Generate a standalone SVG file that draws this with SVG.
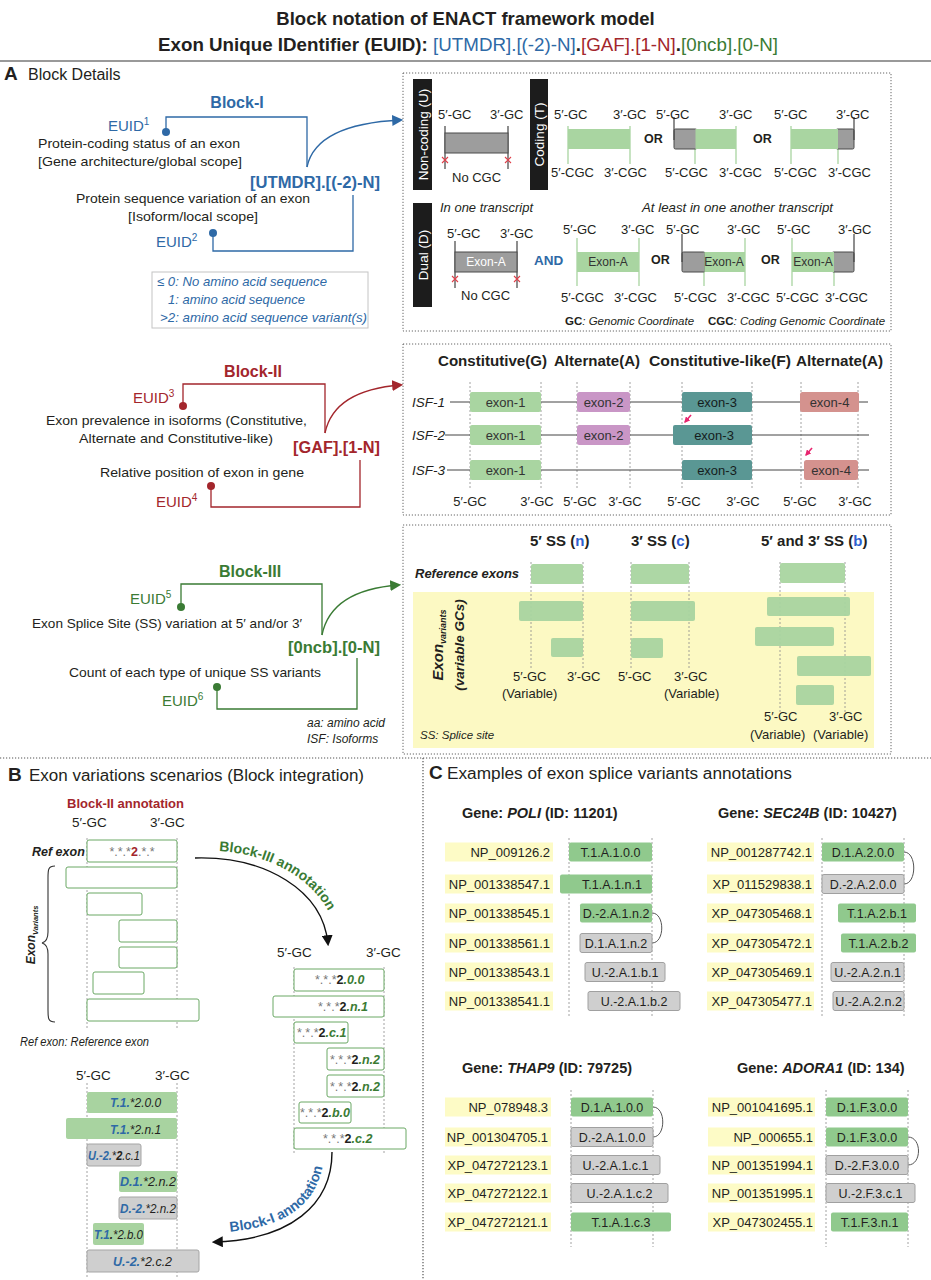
<svg xmlns="http://www.w3.org/2000/svg" width="931" height="1280" viewBox="0 0 931 1280" font-size="13" fill="#231f20">
<defs>
<style>
text{font-family:"Liberation Sans",Arial,sans-serif}
.b{font-weight:bold}
.i{font-style:italic}
.bl{fill:#2e69a6}
.rd{fill:#a3262c}
.gn{fill:#3a7b34}
.gy{fill:#777}
.w{fill:#fff}
.dk{fill:#151d1d}
.m{text-anchor:middle}
.e{text-anchor:end}
.box{fill:none;stroke:#666;stroke-width:1;stroke-dasharray:1.2 1.8}
.vd{stroke:#8a8a8a;stroke-width:0.8;stroke-dasharray:2 2;fill:none}
.gline{stroke:#a9d5a1;stroke-width:1.3;fill:none}
.kline{stroke:#444;stroke-width:1.2;fill:none}
.gfill{fill:#a9d5a1}
.gray{fill:#9d9d9d;stroke:#4a4a4a;stroke-width:1}
.ob{fill:#fff;stroke:#6aa864;stroke-width:1}
.pg{fill:#a8d3a0}
.pgr{fill:#cfcfcf;stroke:#a5a5a5;stroke-width:1}
.cg{fill:#90c98d}
.cgr{fill:#cfcfcf;stroke:#a0a0a0;stroke-width:1}
.yl{fill:#fdfbc6}
.isf{stroke:#444;stroke-width:1;fill:none}
.arc{stroke:#555;stroke-width:1;fill:none}
</style>
<path id="xm" d="M-3,-3L3,3M-3,3L3,-3" stroke="#e0404a" stroke-width="1.1"/>
<marker id="ab" viewBox="0 0 10 10" refX="8" refY="5" markerWidth="11" markerHeight="11" markerUnits="userSpaceOnUse" orient="auto"><path d="M0,0L10,5L0,10z" fill="#2e69a6"/></marker>
<marker id="ar" viewBox="0 0 10 10" refX="8" refY="5" markerWidth="11" markerHeight="11" markerUnits="userSpaceOnUse" orient="auto"><path d="M0,0L10,5L0,10z" fill="#a3262c"/></marker>
<marker id="ag" viewBox="0 0 10 10" refX="8" refY="5" markerWidth="11" markerHeight="11" markerUnits="userSpaceOnUse" orient="auto"><path d="M0,0L10,5L0,10z" fill="#3a7b34"/></marker>
<marker id="ak" viewBox="0 0 10 10" refX="8" refY="5" markerWidth="11" markerHeight="11" markerUnits="userSpaceOnUse" orient="auto"><path d="M0,0L10,5L0,10z" fill="#111"/></marker>
<marker id="ap" viewBox="0 0 10 10" refX="8" refY="5" markerWidth="6" markerHeight="6" markerUnits="userSpaceOnUse" orient="auto"><path d="M0,0L10,5L0,10z" fill="#e8256f"/></marker>
<path id="tp3" d="M205,851 C270,849 331,885 337,940" fill="none"/>
<path id="tp1" d="M226,1232 C292,1227 320,1200 324,1156" fill="none"/>
</defs>
<rect width="931" height="1280" fill="#fff"/>

<g id="title">
<text class="b m" x="465.5" y="25" font-size="18.5">Block notation of ENACT framework model</text>
<text x="158" y="51" font-size="17.5" textLength="620" lengthAdjust="spacingAndGlyphs"><tspan class="b">Exon Unique IDentifier (EUID): </tspan><tspan class="bl">[UTMDR].[(-2)-N]</tspan><tspan class="b">.</tspan><tspan class="rd">[GAF].[1-N]</tspan><tspan class="b">.</tspan><tspan class="gn">[0ncb].[0-N]</tspan></text>
<line x1="0" y1="61" x2="931" y2="61" stroke="#999" stroke-width="2"/>
<text class="b" x="4" y="80" font-size="19">A</text>
<text x="28" y="80" font-size="16">Block Details</text>
</g>

<g id="connectors">
<path d="M166,132V117H307V167" stroke="#2e69a6" stroke-width="1.3" fill="none"/>
<circle cx="166" cy="132" r="4" fill="#2e69a6"/>
<path d="M213,233V251H353V195" stroke="#2e69a6" stroke-width="1.3" fill="none"/>
<circle cx="213" cy="233" r="4" fill="#2e69a6"/>
<path d="M307,167 Q316,124 401,120" stroke="#2e69a6" stroke-width="1.3" fill="none" marker-end="url(#ab)"/>
<path d="M183,406V384H325V433" stroke="#a3262c" stroke-width="1.3" fill="none"/>
<circle cx="183" cy="406" r="4" fill="#a3262c"/>
<path d="M211,486V507H360V460" stroke="#a3262c" stroke-width="1.3" fill="none"/>
<circle cx="211" cy="486" r="4" fill="#a3262c"/>
<path d="M325,433 Q334,390 401,385" stroke="#a3262c" stroke-width="1.3" fill="none" marker-end="url(#ar)"/>
<path d="M181,607V584H322V635" stroke="#3a7b34" stroke-width="1.3" fill="none"/>
<circle cx="181" cy="607" r="4" fill="#3a7b34"/>
<path d="M217,687V709H357V658" stroke="#3a7b34" stroke-width="1.3" fill="none"/>
<circle cx="217" cy="687" r="4" fill="#3a7b34"/>
<path d="M322,635 Q331,590 399,585" stroke="#3a7b34" stroke-width="1.3" fill="none" marker-end="url(#ag)"/>
<path d="M195,858 C265,856 323,890 328,944" stroke="#111" stroke-width="1.4" fill="none" marker-end="url(#ak)"/>
<path d="M332,1152 C332,1205 290,1240 214,1242" stroke="#111" stroke-width="1.4" fill="none" marker-end="url(#ak)"/>
<path d="M691,415L685,422" stroke="#e8256f" stroke-width="1.6" marker-end="url(#ap)"/>
<path d="M812,448L806,455" stroke="#e8256f" stroke-width="1.6" marker-end="url(#ap)"/>
<path class="arc" d="M652,913 C665,913 665,943 652,943"/>
<path class="arc" d="M904,852 C917,852 917,884 904,884"/>
<path class="arc" d="M653,1107 C666,1107 666,1137 653,1137"/>
<path class="arc" d="M908,1137 C922,1137 922,1165 908,1165"/>
</g>

<g id="blockI">
<text class="b bl m" x="237" y="108" font-size="16">Block-I</text>
<text class="bl" x="108" y="131" font-size="15">EUID<tspan font-size="10" dy="-6">1</tspan></text>
<text x="38" y="148" textLength="202" lengthAdjust="spacingAndGlyphs">Protein-coding status of an exon</text>
<text x="38" y="166" textLength="204" lengthAdjust="spacingAndGlyphs">[Gene architecture/global scope]</text>
<text class="b bl" x="250" y="188" font-size="16" textLength="130" lengthAdjust="spacingAndGlyphs">[UTMDR].[(-2)-N]</text>
<text x="76" y="203" textLength="234" lengthAdjust="spacingAndGlyphs">Protein sequence variation of an exon</text>
<text x="128" y="221" textLength="130" lengthAdjust="spacingAndGlyphs">[Isoform/local scope]</text>
<text class="bl" x="156" y="247" font-size="15">EUID<tspan font-size="10" dy="-6">2</tspan></text>
<rect x="152" y="272" width="216" height="56" fill="none" stroke="#c4c4c4" stroke-width="1"/>
<text class="i bl" x="157" y="286" textLength="170" lengthAdjust="spacingAndGlyphs">≤ 0: No amino acid sequence</text>
<text class="i bl" x="168" y="304" textLength="137" lengthAdjust="spacingAndGlyphs">1: amino acid sequence</text>
<text class="i bl" x="160" y="322" textLength="207" lengthAdjust="spacingAndGlyphs">&gt;2: amino acid sequence variant(s)</text>
</g>

<g id="blockI-panel">
<rect class="box" x="403" y="73" width="488" height="258"/>
<rect x="413" y="79" width="19" height="111" fill="#1c1c1c"/>
<text class="w m" font-size="13.5" transform="translate(427.5,134.5) rotate(-90)">Non-coding (U)</text>
<text x="438" y="119">5′-GC</text><text x="490" y="119">3′-GC</text>
<path class="kline" d="M445,126V169M508,126V169"/>
<rect class="gray" x="445" y="133" width="63" height="20"/>
<use href="#xm" x="445" y="160"/><use href="#xm" x="508" y="160"/>
<text x="452" y="182">No CGC</text>
<rect x="530" y="79" width="18" height="111" fill="#1c1c1c"/>
<text class="w m" font-size="13.5" transform="translate(544,134.5) rotate(-90)">Coding (T)</text>
<path class="gline" d="M568,126V164M630,126V164"/>
<rect class="gfill" x="568" y="129" width="62" height="20"/>
<text x="554" y="119">5′-GC</text><text x="613" y="119">3′-GC</text>
<text x="551" y="177">5′-CGC</text><text x="604" y="177">3′-CGC</text>
<text class="b" font-size="12.5" x="644" y="143">OR</text>
<path class="gline" d="M695,149V164M736,126V164"/>
<rect class="gray" x="674" y="129" width="23" height="20" rx="1.5"/>
<rect class="gfill" x="695.5" y="129" width="40.5" height="20"/>
<path class="kline" d="M674,117V140"/>
<text x="656" y="119">5′-GC</text><text x="719" y="119">3′-GC</text>
<text x="665" y="177">5′-CGC</text><text x="719" y="177">3′-CGC</text>
<text class="b" font-size="12.5" x="753" y="143">OR</text>
<path class="gline" d="M791,126V164M838,149V164"/>
<rect class="gray" x="836" y="129" width="18" height="20" rx="1.5"/>
<rect class="gfill" x="791" y="129" width="47" height="20"/>
<path class="kline" d="M854,117V140"/>
<text x="774" y="119">5′-GC</text><text x="836" y="119">3′-GC</text>
<text x="774" y="177">5′-CGC</text><text x="828" y="177">3′-CGC</text>

<rect x="413" y="203" width="19" height="104" fill="#1c1c1c"/>
<text class="w m" font-size="13.5" transform="translate(427.5,255) rotate(-90)">Dual (D)</text>
<text class="i" x="440" y="212" textLength="93" lengthAdjust="spacingAndGlyphs">In one transcript</text>
<text class="i" x="642" y="212" textLength="191" lengthAdjust="spacingAndGlyphs">At least in one another transcript</text>
<text x="447" y="238">5′-GC</text><text x="500" y="238">3′-GC</text>
<path class="kline" d="M455,241V288M517,241V288"/>
<rect class="gray" x="455" y="252" width="62" height="20"/>
<text class="w m" x="486" y="266" font-size="12">Exon-A</text>
<use href="#xm" x="455" y="279"/><use href="#xm" x="517" y="279"/>
<text x="461" y="300">No CGC</text>
<text class="b bl" x="534" y="265" font-size="13.5">AND</text>
<path class="gline" d="M577,238V286M639,238V286"/>
<rect class="gfill" x="577" y="252" width="62" height="20"/>
<text class="m" x="608" y="266" font-size="12" fill="#333">Exon-A</text>
<text x="563" y="234">5′-GC</text><text x="621" y="234">3′-GC</text>
<text x="561" y="302">5′-CGC</text><text x="614" y="302">3′-CGC</text>
<text class="b" font-size="12.5" x="651" y="264">OR</text>
<path class="gline" d="M704,272V286M745,238V286"/>
<rect class="gray" x="682" y="252" width="23" height="20" rx="1.5"/>
<rect class="gfill" x="704.5" y="252" width="40.5" height="20"/>
<path class="kline" d="M682,234V262"/>
<text class="m" x="724" y="266" font-size="12" fill="#333">Exon-A</text>
<text x="666" y="234">5′-GC</text><text x="727" y="234">3′-GC</text>
<text x="674" y="302">5′-CGC</text><text x="727" y="302">3′-CGC</text>
<text class="b" font-size="12.5" x="761" y="264">OR</text>
<path class="gline" d="M792,238V286M834,272V286"/>
<rect class="gray" x="832" y="252" width="22" height="20" rx="1.5"/>
<rect class="gfill" x="792" y="252" width="42" height="20"/>
<path class="kline" d="M854,234V262"/>
<text class="m" x="813" y="266" font-size="12" fill="#333">Exon-A</text>
<text x="777" y="234">5′-GC</text><text x="838" y="234">3′-GC</text>
<text x="776" y="302">5′-CGC</text><text x="825" y="302">3′-CGC</text>
<text x="565" y="325" font-size="11.5"><tspan class="b">GC</tspan><tspan class="i">: Genomic Coordinate</tspan></text>
<text x="708" y="325" font-size="11.5"><tspan class="b">CGC</tspan><tspan class="i">: Coding Genomic Coordinate</tspan></text>
</g>

<g id="blockII">
<text class="b rd m" x="253" y="377" font-size="16">Block-II</text>
<text class="rd" x="133" y="403" font-size="15">EUID<tspan font-size="10" dy="-6">3</tspan></text>
<text x="46" y="425" textLength="261" lengthAdjust="spacingAndGlyphs">Exon prevalence in isoforms (Constitutive,</text>
<text x="79" y="443" textLength="194" lengthAdjust="spacingAndGlyphs">Alternate and Constitutive-like)</text>
<text class="b rd" x="293" y="453" font-size="16" textLength="87" lengthAdjust="spacingAndGlyphs">[GAF].[1-N]</text>
<text x="100" y="477" textLength="204" lengthAdjust="spacingAndGlyphs">Relative position of exon in gene</text>
<text class="rd" x="156" y="507" font-size="15">EUID<tspan font-size="10" dy="-6">4</tspan></text>
</g>

<g id="blockII-panel">
<rect class="box" x="403" y="344" width="488" height="171"/>
<text class="b" x="438" y="366" font-size="15" textLength="109" lengthAdjust="spacingAndGlyphs">Constitutive(G)</text>
<text class="b" x="554" y="366" font-size="15" textLength="86" lengthAdjust="spacingAndGlyphs">Alternate(A)</text>
<text class="b" x="649" y="366" font-size="15" textLength="142" lengthAdjust="spacingAndGlyphs">Constitutive-like(F)</text>
<text class="b" x="796" y="366" font-size="15" textLength="87" lengthAdjust="spacingAndGlyphs">Alternate(A)</text>
<path class="vd" d="M470,382V490M541,382V490M577,382V490M630,382V490M682,382V490M752,382V490M801,382V490M858,382V490"/>
<path class="isf" d="M450,402H868M445,435H869M447,470H869"/>
<text class="i" x="412" y="407" font-size="13.5">ISF-1</text>
<text class="i" x="412" y="440" font-size="13.5">ISF-2</text>
<text class="i" x="412" y="475" font-size="13.5">ISF-3</text>
<rect x="470" y="392" width="71" height="20" rx="2" fill="#a9d5a1"/>
<rect x="470" y="425" width="71" height="20" rx="2" fill="#a9d5a1"/>
<rect x="470" y="460" width="71" height="20" rx="2" fill="#a9d5a1"/>
<rect x="577" y="392" width="53" height="20" rx="2.5" fill="#c996c6"/>
<rect x="577" y="425" width="53" height="20" rx="2.5" fill="#c996c6"/>
<rect x="682" y="392" width="70" height="20" rx="2" fill="#5a9794"/>
<rect x="673" y="425" width="79" height="20" rx="2" fill="#5a9794"/>
<rect x="682" y="460" width="70" height="20" rx="2" fill="#5a9794"/>
<rect x="800" y="392" width="59" height="20" rx="2.5" fill="#d4928e"/>
<rect x="804" y="460" width="54" height="20" rx="2.5" fill="#d4928e"/>
<text class="m" x="505.5" y="406.5" fill="#333">exon-1</text>
<text class="m" x="505.5" y="439.5" fill="#333">exon-1</text>
<text class="m" x="505.5" y="474.5" fill="#333">exon-1</text>
<text class="m" x="603.5" y="406.5" fill="#333">exon-2</text>
<text class="m" x="603.5" y="439.5" fill="#333">exon-2</text>
<text class="m dk" x="717" y="406.5">exon-3</text>
<text class="m dk" x="714" y="439.5">exon-3</text>
<text class="m dk" x="717" y="474.5">exon-3</text>
<text class="m" x="829.5" y="406.5" fill="#333">exon-4</text>
<text class="m" x="831" y="474.5" fill="#333">exon-4</text>
<text class="m" x="470" y="506">5′-GC</text><text class="m" x="537" y="506">3′-GC</text>
<text class="m" x="580" y="506">5′-GC</text><text class="m" x="625" y="506">3′-GC</text>
<text class="m" x="684" y="506">5′-GC</text><text class="m" x="743" y="506">3′-GC</text>
<text class="m" x="800" y="506">5′-GC</text><text class="m" x="855" y="506">3′-GC</text>
</g>

<g id="blockIII">
<text class="b gn m" x="250" y="577" font-size="16">Block-III</text>
<text class="gn" x="130" y="604" font-size="15">EUID<tspan font-size="10" dy="-6">5</tspan></text>
<text x="32" y="628" textLength="270" lengthAdjust="spacingAndGlyphs">Exon Splice Site (SS) variation at 5′ and/or 3′</text>
<text class="b gn" x="288" y="653" font-size="16" textLength="92" lengthAdjust="spacingAndGlyphs">[0ncb].[0-N]</text>
<text x="69" y="677" textLength="252" lengthAdjust="spacingAndGlyphs">Count of each type of unique SS variants</text>
<text class="gn" x="162" y="706" font-size="15">EUID<tspan font-size="10" dy="-6">6</tspan></text>
<text class="i" x="307" y="727" font-size="12">aa: amino acid</text>
<text class="i" x="307" y="743" font-size="12">ISF: Isoforms</text>
</g>

<g id="blockIII-panel">
<rect class="box" x="403" y="525" width="488" height="229"/>
<rect x="413" y="592" width="461" height="156" fill="#fcf9c3"/>
<text class="b" x="530" y="546" font-size="15">5′ SS (<tspan fill="#2f5fd0">n</tspan>)</text>
<text class="b" x="631" y="546" font-size="15">3′ SS (<tspan fill="#2f5fd0">c</tspan>)</text>
<text class="b" x="761" y="546" font-size="15">5′ and 3′ SS (<tspan fill="#2f5fd0">b</tspan>)</text>
<text class="b i" x="415" y="578" font-size="13">Reference exons</text>
<path class="vd" d="M531,562V669M583,562V669M631,562V669M689,562V669M780,562V713M845,562V713"/>
<g fill="#a9d5a1" opacity="0.95">
<rect x="531" y="564" width="52" height="20" rx="2"/>
<rect x="519" y="601" width="64" height="20" rx="2"/>
<rect x="551" y="638" width="32" height="19" rx="2"/>
<rect x="631" y="564" width="58" height="20" rx="2"/>
<rect x="631" y="601" width="64" height="20" rx="2"/>
<rect x="631" y="638" width="32" height="20" rx="2"/>
<rect x="780" y="563" width="65" height="20" rx="2"/>
<rect x="767" y="597" width="83" height="19" rx="2"/>
<rect x="755" y="627" width="79" height="19" rx="2"/>
<rect x="797" y="656" width="74" height="20" rx="2"/>
<rect x="796" y="685" width="38" height="20" rx="2"/>
</g>
<text class="b i m" font-size="15" transform="translate(443,645) rotate(-90)">Exon<tspan font-size="9" dy="3">variants</tspan></text>
<text class="b i m" font-size="13.5" transform="translate(464,645) rotate(-90)">(variable GCs)</text>
<text x="513" y="681">5′-GC</text><text x="502" y="698">(Variable)</text>
<text x="567" y="681">3′-GC</text>
<text x="618" y="681">5′-GC</text>
<text x="674" y="681">3′-GC</text><text x="664" y="698">(Variable)</text>
<text x="764" y="721">5′-GC</text><text x="829" y="721">3′-GC</text>
<text x="750" y="739">(Variable)</text><text x="813" y="739">(Variable)</text>
<text class="i" x="420" y="739" font-size="11.5">SS: Splice site</text>
</g>

<g id="dividers">
<line x1="0" y1="758" x2="931" y2="758" stroke="#555" stroke-width="1.2" stroke-dasharray="1.2 1.8"/>
<line x1="423" y1="758" x2="423" y2="1280" stroke="#555" stroke-width="1.2" stroke-dasharray="1.2 1.8"/>
</g>

<g id="panelB">
<text class="b" x="8" y="781" font-size="19">B</text>
<text x="29" y="781" font-size="16" textLength="335" lengthAdjust="spacingAndGlyphs">Exon variations scenarios (Block integration)</text>
<text class="b rd" x="67" y="808" font-size="13">Block-II annotation</text>
<text x="72" y="827" font-size="13.5">5′-GC</text><text x="150" y="827" font-size="13.5">3′-GC</text>
<path class="vd" d="M87,838V1030M177,838V1030"/>
<text class="b i" x="32" y="856" font-size="12.5">Ref exon</text>
<rect class="ob" x="87" y="840" width="90" height="22" rx="2"/>
<text class="m" x="132" y="856" font-size="12.5"><tspan class="gy">*.*.*</tspan><tspan class="rd b">2</tspan><tspan class="gy">.*.*</tspan></text>
<rect class="ob" x="66" y="867" width="111" height="21" rx="2"/>
<rect class="ob" x="87" y="893" width="55" height="22" rx="2"/>
<rect class="ob" x="119" y="920" width="58" height="22" rx="2"/>
<rect class="ob" x="119" y="947" width="58" height="21" rx="2"/>
<rect class="ob" x="93" y="972" width="51" height="22" rx="2"/>
<rect class="ob" x="87" y="999" width="112" height="22" rx="2"/>
<path d="M55,866 C48,866 48,870 48,878 L48,932 C48,939 46,942 42,943 C46,944 48,947 48,954 L48,1010 C48,1018 48,1022 55,1022" stroke="#333" stroke-width="1.1" fill="none"/>
<text class="b i m" font-size="12" transform="translate(35,935) rotate(-90)">Exon<tspan font-size="7.5" dy="2.5">Variants</tspan></text>
<text class="b gn" font-size="14"><textPath href="#tp3" startOffset="14">Block-III annotation</textPath></text>
<text x="277" y="957" font-size="13.5">5′-GC</text><text x="366" y="957" font-size="13.5">3′-GC</text>
<path class="vd" d="M294,967V1155M384,967V1155"/>
<rect class="ob" x="294" y="969" width="90" height="22" rx="2"/>
<rect class="ob" x="273" y="996" width="111" height="21" rx="2"/>
<rect class="ob" x="294" y="1022" width="54" height="21" rx="2"/>
<rect class="ob" x="327" y="1048" width="57" height="22" rx="2"/>
<rect class="ob" x="327" y="1075" width="57" height="22" rx="2"/>
<rect class="ob" x="299" y="1102" width="52" height="21" rx="2"/>
<rect class="ob" x="294" y="1128" width="112" height="21" rx="2"/>
<text x="315" y="984" font-size="12.5"><tspan class="gy">*.*.*</tspan><tspan class="b">2</tspan><tspan class="gn b i">.0.0</tspan></text>
<text x="318" y="1011" font-size="12.5"><tspan class="gy">*.*.*</tspan><tspan class="b">2</tspan><tspan class="gn b i">.n.1</tspan></text>
<text x="297" y="1037" font-size="12.5"><tspan class="gy">*.*.*</tspan><tspan class="b">2</tspan><tspan class="gn b i">.c.1</tspan></text>
<text x="330" y="1064" font-size="12.5"><tspan class="gy">*.*.*</tspan><tspan class="b">2</tspan><tspan class="gn b i">.n.2</tspan></text>
<text x="330" y="1091" font-size="12.5"><tspan class="gy">*.*.*</tspan><tspan class="b">2</tspan><tspan class="gn b i">.n.2</tspan></text>
<text x="300" y="1117" font-size="12.5"><tspan class="gy">*.*.*</tspan><tspan class="b">2</tspan><tspan class="gn b i">.b.0</tspan></text>
<text x="323" y="1143" font-size="12.5"><tspan class="gy">*.*.*</tspan><tspan class="b">2</tspan><tspan class="gn b i">.c.2</tspan></text>
<text class="b bl" font-size="14"><textPath href="#tp1" startOffset="4">Block-I annotation</textPath></text>
<text class="i" x="20" y="1046" font-size="12.5" textLength="129" lengthAdjust="spacingAndGlyphs">Ref exon: Reference exon</text>
<text x="76" y="1080" font-size="13.5">5′-GC</text><text x="155" y="1080" font-size="13.5">3′-GC</text>
<path class="vd" d="M87,1083V1278M177,1083V1278"/>
<rect class="pg" x="87" y="1092" width="90" height="21" rx="2"/>
<rect class="pg" x="66" y="1118" width="111" height="21" rx="2"/>
<rect class="pgr" x="87" y="1144" width="54" height="22" rx="2"/>
<rect class="pg" x="119" y="1171" width="58" height="21" rx="2"/>
<rect class="pgr" x="119" y="1197" width="58" height="22" rx="2"/>
<rect class="pg" x="93" y="1223" width="51" height="22" rx="2"/>
<rect class="pgr" x="87" y="1250" width="112" height="22" rx="2"/>
<text class="i" x="110" y="1107" font-size="12"><tspan class="bl b">T.1.</tspan>*2.0.0</text>
<text class="i" x="110" y="1134" font-size="12"><tspan class="bl b">T.1.</tspan>*2.n.1</text>
<text class="i" x="88" y="1160" font-size="12" textLength="52" lengthAdjust="spacingAndGlyphs"><tspan class="bl b">U.-2.</tspan>*<tspan class="b">2</tspan>.c.1</text>
<text class="i" x="120" y="1186" font-size="12" textLength="56" lengthAdjust="spacingAndGlyphs"><tspan class="bl b">D.1.</tspan>*2.n.2</text>
<text class="i" x="120" y="1213" font-size="12" textLength="56" lengthAdjust="spacingAndGlyphs"><tspan class="bl b">D.-2.</tspan>*2.n.2</text>
<text class="i" x="94" y="1239" font-size="12" textLength="49" lengthAdjust="spacingAndGlyphs"><tspan class="bl b">T.1</tspan><tspan class="b">.</tspan>*2.b.0</text>
<text class="i" x="113" y="1266" font-size="12.5"><tspan class="bl b">U.-2.</tspan>*2.c.2</text>
</g>

<g id="panelC">
<text class="b" x="429" y="779" font-size="19">C</text>
<text x="447" y="779" font-size="16" textLength="345" lengthAdjust="spacingAndGlyphs">Examples of exon splice variants annotations</text>
</g>

<g id="gene-POLI">
<text class="b" x="462" y="818" font-size="14.5">Gene: <tspan class="i">POLI</tspan> (ID: 11201)</text>
<path class="vd" d="M569,838V1018M652,838V1018"/>
<rect class="yl" x="445" y="842.5" width="108" height="19"/><text class="e" x="550" y="856.5">NP_009126.2</text>
<rect class="yl" x="445" y="874.5" width="108" height="19"/><text class="e" x="550" y="888.5">NP_001338547.1</text>
<rect class="yl" x="445" y="903.5" width="108" height="19"/><text class="e" x="550" y="917.5">NP_001338545.1</text>
<rect class="yl" x="445" y="933.5" width="108" height="19"/><text class="e" x="550" y="947.5">NP_001338561.1</text>
<rect class="yl" x="445" y="962.5" width="108" height="19"/><text class="e" x="550" y="976.5">NP_001338543.1</text>
<rect class="yl" x="445" y="991.5" width="108" height="19"/><text class="e" x="550" y="1005.5">NP_001338541.1</text>
<rect class="cg" x="569" y="842.5" width="83" height="19" rx="2"/><text class="m" x="610.5" y="856.5" font-size="12.5">T.1.A.1.0.0</text>
<rect class="cg" x="560" y="874.5" width="92" height="19" rx="2"/><text class="m" x="612" y="888.5" font-size="12.5">T.1.A.1.n.1</text>
<rect class="cg" x="580" y="903.5" width="72" height="19" rx="2"/><text class="m" x="616" y="917.5" font-size="12.5">D.-2.A.1.n.2</text>
<rect class="cgr" x="580" y="933.5" width="72" height="19" rx="2"/><text class="m" x="616" y="947.5" font-size="12.5">D.1.A.1.n.2</text>
<rect class="cgr" x="585" y="962.5" width="80" height="19" rx="2"/><text class="m" x="625" y="976.5" font-size="12.5">U.-2.A.1.b.1</text>
<rect class="cgr" x="588" y="991.5" width="92" height="19" rx="2"/><text class="m" x="634" y="1005.5" font-size="12.5">U.-2.A.1.b.2</text>
</g>

<g id="gene-SEC24B">
<text class="b" x="718" y="818" font-size="14.5">Gene: <tspan class="i">SEC24B</tspan> (ID: 10427)</text>
<path class="vd" d="M822,838V1018M904,838V1018"/>
<rect class="yl" x="707" y="842.5" width="107" height="19"/><text class="e" x="812" y="856.5">NP_001287742.1</text>
<rect class="yl" x="707" y="874.5" width="107" height="19"/><text class="e" x="812" y="888.5">XP_011529838.1</text>
<rect class="yl" x="707" y="903.5" width="107" height="19"/><text class="e" x="812" y="917.5">XP_047305468.1</text>
<rect class="yl" x="707" y="933.5" width="107" height="19"/><text class="e" x="812" y="947.5">XP_047305472.1</text>
<rect class="yl" x="707" y="962.5" width="107" height="19"/><text class="e" x="812" y="976.5">XP_047305469.1</text>
<rect class="yl" x="707" y="991.5" width="107" height="19"/><text class="e" x="812" y="1005.5">XP_047305477.1</text>
<rect class="cg" x="822" y="842.5" width="82" height="19" rx="2"/><text class="m" x="863" y="856.5" font-size="12.5">D.1.A.2.0.0</text>
<rect class="cgr" x="822" y="874.5" width="82" height="19" rx="2"/><text class="m" x="863" y="888.5" font-size="12.5">D.-2.A.2.0.0</text>
<rect class="cg" x="838" y="903.5" width="78" height="19" rx="2"/><text class="m" x="877" y="917.5" font-size="12.5">T.1.A.2.b.1</text>
<rect class="cg" x="841" y="933.5" width="75" height="19" rx="2"/><text class="m" x="878.5" y="947.5" font-size="12.5">T.1.A.2.b.2</text>
<rect class="cgr" x="831" y="962.5" width="73" height="19" rx="2"/><text class="m" x="867.5" y="976.5" font-size="12.5">U.-2.A.2.n.1</text>
<rect class="cgr" x="833" y="991.5" width="71" height="19" rx="2"/><text class="m" x="868.5" y="1005.5" font-size="12.5">U.-2.A.2.n.2</text>
</g>

<g id="gene-THAP9">
<text class="b" x="462" y="1073" font-size="14.5">Gene: <tspan class="i">THAP9</tspan> (ID: 79725)</text>
<path class="vd" d="M571,1090V1247M653,1090V1247"/>
<rect class="yl" x="445" y="1097.5" width="106" height="19"/><text class="e" x="548" y="1111.5">NP_078948.3</text>
<rect class="yl" x="445" y="1127.5" width="106" height="19"/><text class="e" x="548" y="1141.5">NP_001304705.1</text>
<rect class="yl" x="445" y="1155.5" width="106" height="19"/><text class="e" x="548" y="1169.5">XP_047272123.1</text>
<rect class="yl" x="445" y="1183.5" width="106" height="19"/><text class="e" x="548" y="1197.5">XP_047272122.1</text>
<rect class="yl" x="445" y="1212.5" width="106" height="19"/><text class="e" x="548" y="1226.5">XP_047272121.1</text>
<rect class="cg" x="571" y="1097.5" width="82" height="19" rx="2"/><text class="m" x="612" y="1111.5" font-size="12.5">D.1.A.1.0.0</text>
<rect class="cgr" x="571" y="1127.5" width="82" height="19" rx="2"/><text class="m" x="612" y="1141.5" font-size="12.5">D.-2.A.1.0.0</text>
<rect class="cgr" x="571" y="1155.5" width="89" height="19" rx="2"/><text class="m" x="615.5" y="1169.5" font-size="12.5">U.-2.A.1.c.1</text>
<rect class="cgr" x="571" y="1183.5" width="97" height="19" rx="2"/><text class="m" x="619.5" y="1197.5" font-size="12.5">U.-2.A.1.c.2</text>
<rect class="cg" x="571" y="1212.5" width="100" height="19" rx="2"/><text class="m" x="621" y="1226.5" font-size="12.5">T.1.A.1.c.3</text>
</g>

<g id="gene-ADORA1">
<text class="b" x="737" y="1073" font-size="14.5">Gene: <tspan class="i">ADORA1</tspan> (ID: 134)</text>
<path class="vd" d="M826,1090V1247M908,1090V1247"/>
<rect class="yl" x="708" y="1097.5" width="107" height="19"/><text class="e" x="813" y="1111.5">NP_001041695.1</text>
<rect class="yl" x="708" y="1127.5" width="107" height="19"/><text class="e" x="813" y="1141.5">NP_000655.1</text>
<rect class="yl" x="708" y="1155.5" width="107" height="19"/><text class="e" x="813" y="1169.5">NP_001351994.1</text>
<rect class="yl" x="708" y="1183.5" width="107" height="19"/><text class="e" x="813" y="1197.5">NP_001351995.1</text>
<rect class="yl" x="708" y="1212.5" width="107" height="19"/><text class="e" x="813" y="1226.5">XP_047302455.1</text>
<rect class="cg" x="826" y="1097.5" width="82" height="19" rx="2"/><text class="m" x="867" y="1111.5" font-size="12.5">D.1.F.3.0.0</text>
<rect class="cg" x="826" y="1127.5" width="82" height="19" rx="2"/><text class="m" x="867" y="1141.5" font-size="12.5">D.1.F.3.0.0</text>
<rect class="cgr" x="826" y="1155.5" width="82" height="19" rx="2"/><text class="m" x="867" y="1169.5" font-size="12.5">D.-2.F.3.0.0</text>
<rect class="cgr" x="826" y="1183.5" width="89" height="19" rx="2"/><text class="m" x="870.5" y="1197.5" font-size="12.5">U.-2.F.3.c.1</text>
<rect class="cg" x="831" y="1212.5" width="77" height="19" rx="2"/><text class="m" x="869.5" y="1226.5" font-size="12.5">T.1.F.3.n.1</text>
</g>
</svg>
